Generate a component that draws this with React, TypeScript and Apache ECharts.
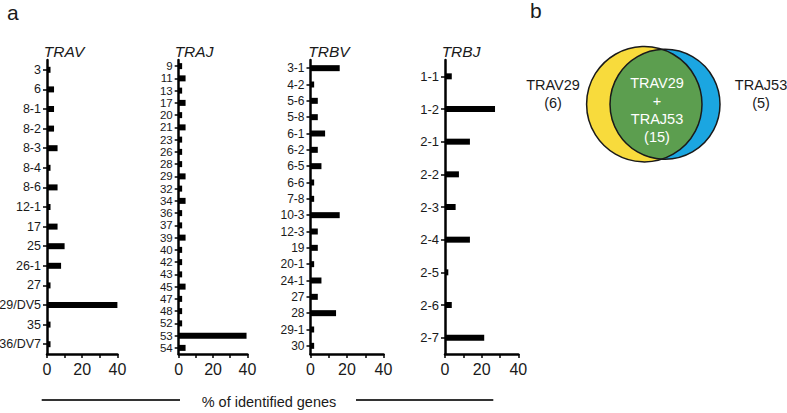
import React, { useEffect, useRef } from "react";
import * as echarts from "echarts";

const travCats = ["3", "6", "8-1", "8-2", "8-3", "8-4", "8-6", "12-1", "17", "25", "26-1", "27", "29/DV5", "35", "36/DV7"];
const travVals = [2, 4, 4, 4, 6, 2, 6, 2, 6, 10, 8, 2, 41, 2, 2];

const trajCats = ["9", "11", "13", "17", "20", "21", "23", "26", "28", "29", "32", "34", "36", "37", "39", "40", "42", "43", "45", "47", "48", "52", "53", "54"];
const trajVals = [2, 4, 2, 4, 2, 4, 2, 2, 2, 4, 2, 4, 2, 2, 4, 2, 2, 2, 4, 2, 2, 2, 39.5, 4];

const trbvCats = ["3-1", "4-2", "5-6", "5-8", "6-1", "6-2", "6-5", "6-6", "7-8", "10-3", "12-3", "19", "20-1", "24-1", "27", "28", "29-1", "30"];
const trbvVals = [16, 2, 4, 4, 8, 4, 6, 2, 2, 16, 4, 4, 2, 6, 4, 14, 2, 2];

const trbjCats = ["1-1", "1-2", "2-1", "2-2", "2-3", "2-4", "2-5", "2-6", "2-7"];
const trbjVals = [3.7, 27.3, 13.6, 7.6, 5.8, 13.6, 1.8, 3.7, 21.4];

const panelTitles = ["TRAV", "TRAJ", "TRBV", "TRBJ"];
const xTicks = { min: 0, max: 40, interval: 10 };
const axisTitle = "% of identified genes";
const vennLeft = ["TRAV29", "(6)"];
const vennRight = ["TRAJ53", "(5)"];
const vennCenter = ["TRAV29", "+", "TRAJ53", "(15)"];

const FONT = "'Liberation Sans', Arial, Helvetica, sans-serif";
const INK = "#1a1a1a";

function lensPoints(c1: number[], r1: number, c2: number[], r2: number): number[][] {
  const d = c2[0] - c1[0];
  const a = (r1 * r1 - r2 * r2 + d * d) / (2 * d);
  const h = Math.sqrt(r1 * r1 - a * a);
  const xi = c1[0] + a;
  const pts: number[][] = [];
  const a2s = Math.atan2(c1[1] - h - c2[1], xi - c2[0]);
  const a2e = Math.atan2(c1[1] + h - c2[1], xi - c2[0]) - 2 * Math.PI;
  const N = 80;
  for (let i = 0; i <= N; i++) {
    const t = a2s + ((a2e - a2s) * i) / N;
    pts.push([c2[0] + r2 * Math.cos(t), c2[1] + r2 * Math.sin(t)]);
  }
  const a1s = Math.atan2(h, a);
  const a1e = Math.atan2(-h, a);
  for (let i = 0; i <= N; i++) {
    const t = a1s + ((a1e - a1s) * i) / N;
    pts.push([c1[0] + r1 * Math.cos(t), c1[1] + r1 * Math.sin(t)]);
  }
  return pts;
}

export default function App() {
  const ref = useRef<HTMLDivElement>(null);

  useEffect(() => {
    if (!ref.current) return;
    const chart = echarts.init(ref.current, null, { renderer: "svg" });

    const panels = [
      { cats: travCats, vals: travVals, left: 47, width: 70.4, font: 12.5, lh: 14 },
      { cats: trajCats, vals: trajVals, left: 178.7, width: 68.7, font: 11.5, lh: 11 },
      { cats: trbvCats, vals: trbvVals, left: 310.5, width: 73, font: 12, lh: 14 },
      { cats: trbjCats, vals: trbjVals, left: 445, width: 73.3, font: 13, lh: 15 },
    ];
    const top = 60;
    const bottomY = 354;

    const grids = panels.map((p) => ({
      left: p.left,
      top,
      width: p.width,
      height: bottomY - top,
      containLabel: false,
      outerBoundsMode: "none",
    }));

    const xAxes = panels.map((p, i) => ({
      type: "value",
      gridIndex: i,
      min: xTicks.min,
      max: xTicks.max,
      interval: xTicks.interval,
      splitLine: { show: false },
      axisLine: { show: true, lineStyle: { color: "#000", width: 2.5 } },
      axisTick: { show: true, length: 4, lineStyle: { color: "#000", width: 1.5 } },
      axisLabel: {
        fontSize: 16,
        color: INK,
        fontFamily: FONT,
        margin: 7,
        formatter: (v: number) => (v % 20 === 0 ? String(v) : ""),
      },
    }));

    const yAxes = panels.map((p, i) => ({
      type: "category",
      gridIndex: i,
      data: p.cats,
      inverse: true,
      boundaryGap: true,
      axisLine: { show: true, lineStyle: { color: "#000", width: 2.5 } },
      axisTick: { show: true, alignWithLabel: true, length: 4, lineStyle: { color: "#000", width: 1.5 } },
      axisLabel: { fontSize: p.font, lineHeight: p.lh, color: INK, fontFamily: FONT, margin: 6, interval: 0, hideOverlap: false },
      splitLine: { show: false },
    }));

    const series = panels.map((p, i) => ({
      type: "bar",
      xAxisIndex: i,
      yAxisIndex: i,
      data: p.vals,
      barWidth: 6,
      itemStyle: { color: "#000" },
      silent: true,
    }));

    const titleX = [64, 194, 329, 461];
    const graphicEls: any[] = [];
    panelTitles.forEach((t, i) => {
      graphicEls.push({
        type: "text",
        x: titleX[i],
        y: 51,
        style: { text: t, fontSize: 15.5, fontStyle: "italic", fontFamily: FONT, fill: INK, align: "center", verticalAlign: "middle" },
      });
    });
    graphicEls.push({
      type: "text", x: 7, y: 12,
      style: { text: "a", fontSize: 21, fontFamily: FONT, fill: INK, align: "left", verticalAlign: "middle" },
    });
    graphicEls.push({
      type: "text", x: 530, y: 10,
      style: { text: "b", fontSize: 21, fontFamily: FONT, fill: INK, align: "left", verticalAlign: "middle" },
    });
    graphicEls.push({
      type: "text", x: 269, y: 401.5,
      style: { text: axisTitle, fontSize: 14.5, fontFamily: FONT, fill: INK, align: "center", verticalAlign: "middle" },
    });
    graphicEls.push({ type: "line", shape: { x1: 41.7, y1: 400, x2: 180, y2: 400 }, style: { stroke: "#333", lineWidth: 2 } });
    graphicEls.push({ type: "line", shape: { x1: 356, y1: 400, x2: 493.3, y2: 400 }, style: { stroke: "#333", lineWidth: 2 } });

    const c1 = [644.3, 104.2];
    const r1 = 57.7;
    const c2 = [665, 104.3];
    const r2 = 55;
    graphicEls.push({ type: "circle", shape: { cx: c1[0], cy: c1[1], r: r1 }, style: { fill: "#F8DB3C", stroke: "none" } });
    graphicEls.push({ type: "circle", shape: { cx: c2[0], cy: c2[1], r: r2 }, style: { fill: "#1BA6E1", stroke: "none" } });
    graphicEls.push({ type: "polygon", shape: { points: lensPoints(c1, r1, c2, r2) }, style: { fill: "#5C9E4F", stroke: "none" } });
    graphicEls.push({ type: "circle", shape: { cx: c1[0], cy: c1[1], r: r1 }, style: { fill: "none", stroke: "#1a1a1a", lineWidth: 1.5 } });
    graphicEls.push({ type: "circle", shape: { cx: c2[0], cy: c2[1], r: r2 }, style: { fill: "none", stroke: "#1a1a1a", lineWidth: 1.5 } });

    const centerYs = [83.3, 100.5, 119, 136.7];
    vennCenter.forEach((t, i) => {
      graphicEls.push({
        type: "text", x: 657, y: centerYs[i],
        style: { text: t, fontSize: 14.5, fontFamily: FONT, fill: "#ffffff", align: "center", verticalAlign: "middle" },
      });
    });
    const sideYs = [85, 103.3];
    vennLeft.forEach((t, i) => {
      graphicEls.push({
        type: "text", x: 553, y: sideYs[i],
        style: { text: t, fontSize: 14.5, fontFamily: FONT, fill: INK, align: "center", verticalAlign: "middle" },
      });
    });
    vennRight.forEach((t, i) => {
      graphicEls.push({
        type: "text", x: 761, y: sideYs[i],
        style: { text: t, fontSize: 14.5, fontFamily: FONT, fill: INK, align: "center", verticalAlign: "middle" },
      });
    });

    chart.setOption({
      animation: false,
      backgroundColor: "#ffffff",
      textStyle: { fontFamily: FONT },
      grid: grids,
      xAxis: xAxes,
      yAxis: yAxes,
      series,
      graphic: { elements: graphicEls },
    } as any);

    return () => chart.dispose();
  }, []);

  return (
    <div
      ref={ref}
      style={{ position: "absolute", left: 0, top: 0, width: 787, height: 413, background: "#fff" }}
    />
  );
}
